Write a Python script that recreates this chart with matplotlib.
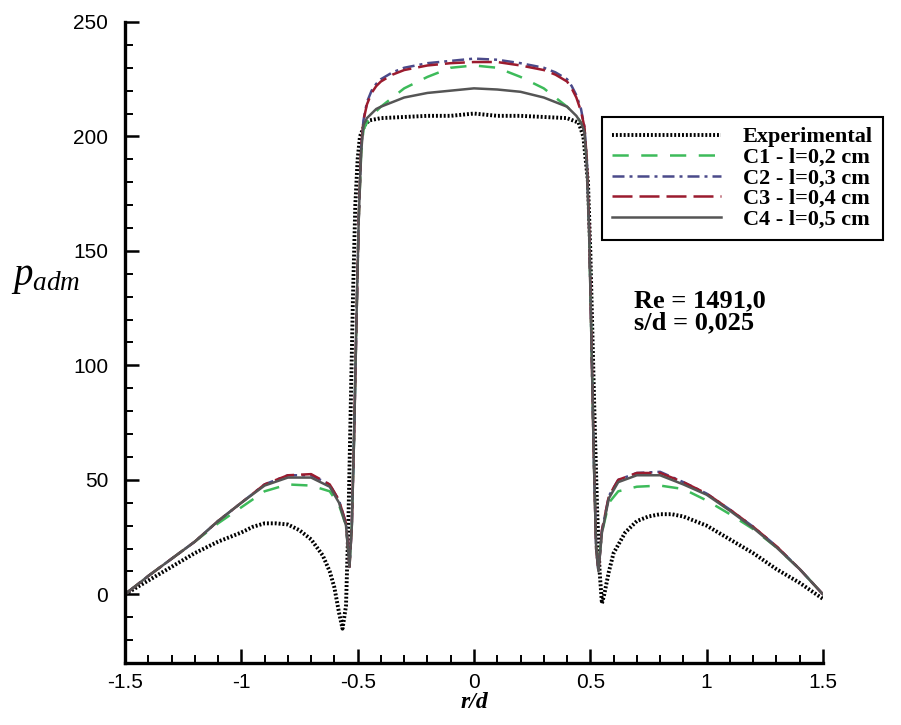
import matplotlib
matplotlib.use('agg')
import matplotlib.pyplot as plt
from matplotlib import rc
from matplotlib.ticker import MultipleLocator, FormatStrFormatter

rc('font', family='Liberation Sans', size=15)
rc('mathtext', fontset='custom', rm='Liberation Serif', it='Liberation Serif:italic')

# experimental data
x_exp = [-1.5, -1.4, -1.3, -1.2, -1.1, -1.0, -0.95, -0.9, -0.85, -0.8, -0.75, -0.7, -0.65, -0.62,
         -0.6, -0.58, -0.565, -0.55, -0.54, -0.53, -0.52, -0.51, -0.5, -0.49, -0.47, -0.45, -0.4,
         -0.3, -0.2, -0.1, 0.0, 0.1, 0.2, 0.3, 0.4, 0.45, 0.47, 0.49, 0.5, 0.51, 0.52, 0.53, 0.54,
         0.55, 0.56, 0.58, 0.6, 0.65, 0.7, 0.75, 0.8, 0.85, 0.9, 1.0, 1.1, 1.2, 1.3, 1.4, 1.5]
y_exp = [0, 6, 12, 18, 23, 27, 29.5, 31, 31, 30.5, 28, 24, 17, 10,
         3, -8, -15, -5, 30, 80, 130, 170, 190, 200, 205, 207, 208,
         208.5, 209, 209, 210, 209, 209, 208.5, 208, 206, 200, 180, 150, 110, 70, 35, 10,
         -4, 0, 10, 18, 27, 32, 34, 35, 35, 34, 30, 24, 18, 11, 5, -2]

# simulations
x_sim = [-1.5, -1.4, -1.3, -1.2, -1.1, -1.0, -0.9, -0.8, -0.7, -0.62, -0.58, -0.55, -0.535,
         -0.525, -0.515, -0.505, -0.495, -0.485, -0.475, -0.46, -0.44, -0.42, -0.4, -0.35, -0.3,
         -0.2, -0.1, 0.0, 0.1, 0.2, 0.3, 0.35, 0.4, 0.42, 0.44, 0.46, 0.475, 0.485, 0.495, 0.505,
         0.515, 0.525, 0.535, 0.55, 0.58, 0.62, 0.7, 0.8, 0.9, 1.0, 1.1, 1.2, 1.3, 1.4, 1.5]
y_c1 = [0, 8, 15.5, 23, 31, 38, 45, 48, 47.5, 45, 39, 30, 13,
        30, 70, 120, 165, 192, 203, 206, 209, 211, 213, 217, 221,
        226, 230, 231, 230, 226, 221, 217, 213, 211, 209, 206, 203, 188, 158, 110,
        60, 22, 12, 27, 40, 45, 47, 47.5, 46, 41, 35, 28.5, 20.5, 11, 0]
y_c2 = [0, 8, 15.5, 23, 32, 40, 48, 52, 52, 48, 41, 31, 12,
        30, 70, 120, 165, 195, 207, 215, 220, 223, 225, 228, 230,
        232, 233, 234, 233.5, 232, 230, 228, 225, 222, 218, 212, 204, 190, 160, 110,
        60, 20, 10, 28, 43, 50, 53, 53.5, 49, 44, 37, 29.5, 21, 11, 0]
y_c3 = [0, 8, 15.5, 23, 32, 40, 48, 52, 52.5, 48, 41, 31, 12,
        30, 70, 120, 165, 195, 207, 214, 219, 222, 224, 227, 229,
        231, 232, 232.5, 232.5, 231, 229, 227, 224, 221, 217, 211, 204, 190, 160, 110,
        60, 20, 10, 28, 43, 50, 53, 53, 49, 44, 37, 29.5, 21, 11, 0]
y_c4 = [0, 8, 15.5, 23, 32, 40, 47.5, 51, 51, 47, 40, 30, 12,
        30, 70, 120, 165, 193, 205, 208, 210, 212, 213, 215, 217,
        219, 220, 221, 220.5, 219.5, 217, 215, 213, 211, 209, 206, 202, 188, 158, 110,
        60, 20, 10, 27, 42, 49, 52, 52, 48, 43.5, 36.5, 29, 20.5, 11, 0]

fig = plt.figure(figsize=(9.01, 7.25), dpi=100)
ax = fig.add_axes([0.1387, 0.0855, 0.7747, 0.8842])

ax.plot(x_exp, y_exp, color='black', linewidth=2.8, linestyle=(0, (0.5, 0.5)),
        dash_capstyle='butt', label='Experimental')
ax.plot(x_sim, y_c1, color='#3dbb5a', linewidth=1.8, linestyle=(0, (6.5, 5)), label='C1 - l=0,2 cm')
ax.plot(x_sim, y_c2, color='#4b4a8a', linewidth=1.8, linestyle=(0, (4.8, 2, 1.2, 2)), label='C2 - l=0,3 cm')
ax.plot(x_sim, y_c3, color='#9b1b2e', linewidth=1.8, linestyle=(0, (8, 2.8)), label='C3 - l=0,4 cm')
ax.plot(x_sim, y_c4, color='#555555', linewidth=1.8, linestyle='-', label='C4 - l=0,5 cm')

ax.set_xlim(-1.5, 1.5)
ax.set_ylim(-30, 250)
ax.spines['top'].set_visible(False)
ax.spines['right'].set_visible(False)
ax.spines['left'].set_linewidth(2.4)
ax.spines['bottom'].set_linewidth(2.4)
ax.xaxis.set_major_locator(MultipleLocator(0.5))
ax.xaxis.set_minor_locator(MultipleLocator(0.1))
ax.xaxis.set_major_formatter(FormatStrFormatter('%g'))
ax.yaxis.set_major_locator(MultipleLocator(50))
ax.yaxis.set_minor_locator(MultipleLocator(10))
ax.tick_params(axis='both', which='major', direction='in', length=10, width=1.8)
ax.tick_params(axis='both', which='minor', direction='in', length=5.5, width=1.4)
ax.tick_params(axis='x', which='major', pad=7)
ax.tick_params(axis='y', which='major', pad=12)

leg = ax.legend(loc='upper left', bbox_to_anchor=(0.683, 0.852), borderaxespad=0,
                prop={'family': 'Liberation Serif', 'weight': 'bold', 'size': 16},
                handlelength=4.9, handletextpad=1.0, labelspacing=0.0,
                fancybox=False, framealpha=1, edgecolor='black', borderpad=0.45)
leg.get_frame().set_linewidth(1.5)

ax.text(0.729, 0.548, 'Re = 1491,0\ns/d = 0,025', transform=ax.transAxes,
        family='Liberation Serif', weight='bold', fontsize=19, linespacing=0.95, va='center')

fig.text(0.012, 0.607, '$p_{adm}$', fontsize=28)
fig.text(0.527, 0.023, 'r/d', family='Liberation Serif', weight='bold', style='italic',
         fontsize=17, ha='center')

fig.savefig('out.png', dpi=100)
plt.close()
